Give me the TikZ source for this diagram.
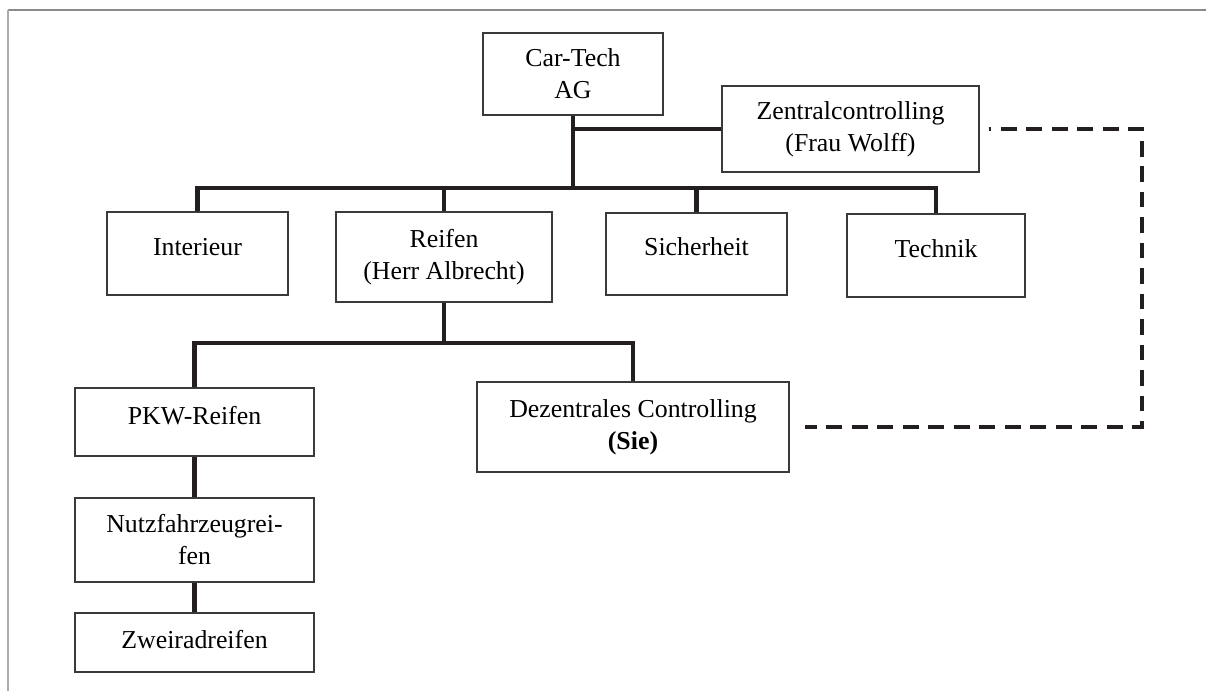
\documentclass[tikz,border=0pt]{standalone}
\usepackage{fontspec}
\setmainfont{Liberation Serif}
\usetikzlibrary{calc}
\definecolor{cline}{HTML}{231F20}
\definecolor{cedge}{HTML}{3A3A3A}
\definecolor{cframe}{HTML}{8A8A8A}
\definecolor{cframeleft}{HTML}{ABABAB}
\tikzset{
  every picture/.style={font=\fontsize{14.7}{18.2}\selectfont},
  box/.style 2 args={draw=cedge, line width=0.6pt, align=center, inner sep=1pt, minimum width=#1cm, minimum height=#2cm},
  link/.style={draw=cline, line width=2.3pt},
  dashlink/.style={draw=cline, line width=2pt, dash pattern=on 9pt off 5.5pt, dash phase=7.5pt},
}
\begin{document}
\begin{tikzpicture}
  \useasboundingbox (0,0) rectangle (24.12,-13.82);
  % frame of the page
  \draw[cframe, line width=0.6pt] (0.16,-0.2) -- (24.12,-0.2);
  \draw[cframeleft, line width=1.1pt] (0.16,-0.2) -- (0.16,-13.82);
  % top level
  \node[box={3.6}{1.64}] (cartech) at (11.46,-1.48) {Car-Tech\\AG};
  \node[box={5.14}{1.72}] (zentral) at (17.01,-2.58) {Zentralcontrolling\\(Frau Wolff)};
  % divisions
  \node[box={3.62}{1.66}, text depth=0.8em] (interieur) at (3.95,-5.07) {Interieur};
  \node[box={4.32}{1.80}] (reifen) at (8.88,-5.14) {Reifen\\(Herr Albrecht)};
  \node[box={3.62}{1.64}, text depth=0.8em] (sicherheit) at (13.93,-5.08) {Sicherheit};
  \node[box={3.56}{1.66}, text depth=0.8em] (technik) at (18.72,-5.11) {Technik};
  % below Reifen
  \node[box={4.78}{1.36}, text depth=0.7em] (pkw) at (3.89,-8.44) {PKW-Reifen};
  \node[box={4.78}{1.68}] (nutz) at (3.89,-10.8) {Nutzfahrzeugrei-\\fen};
  \node[box={4.78}{1.18}, text depth=0.3em] (zweirad) at (3.89,-12.85) {Zweiradreifen};
  \node[box={6.24}{1.80}] (dez) at (12.66,-8.54) {Dezentrales Controlling\\\textbf{(Sie)}};
  % lines
  \coordinate (bus) at (0,-3.76);
  \coordinate (subbus) at (0,-6.86);
  \coordinate (turn) at (22.84,0);
  \draw[link] (cartech.south) -- (cartech.south |- bus);
  \draw[link] (zentral.west) -- (zentral.west -| cartech.south);
  \draw[link] (interieur.north) |- (technik.north |- bus) -- (technik.north);
  \foreach \n in {reifen, sicherheit} \draw[link] (\n.north) -- (\n.north |- bus);
  \draw[link] (reifen.south) -- (reifen.south |- subbus);
  \draw[link] (pkw.north) |- (dez.north |- subbus) -- (dez.north);
  \draw[link] (pkw.south) -- (nutz.north);
  \draw[link] (nutz.south) -- (zweirad.north);
  \draw[dashlink] ([xshift=0.18cm]zentral.east) -| (turn |- dez.east) -- ([xshift=0.3cm]dez.east);
\end{tikzpicture}
\end{document}
